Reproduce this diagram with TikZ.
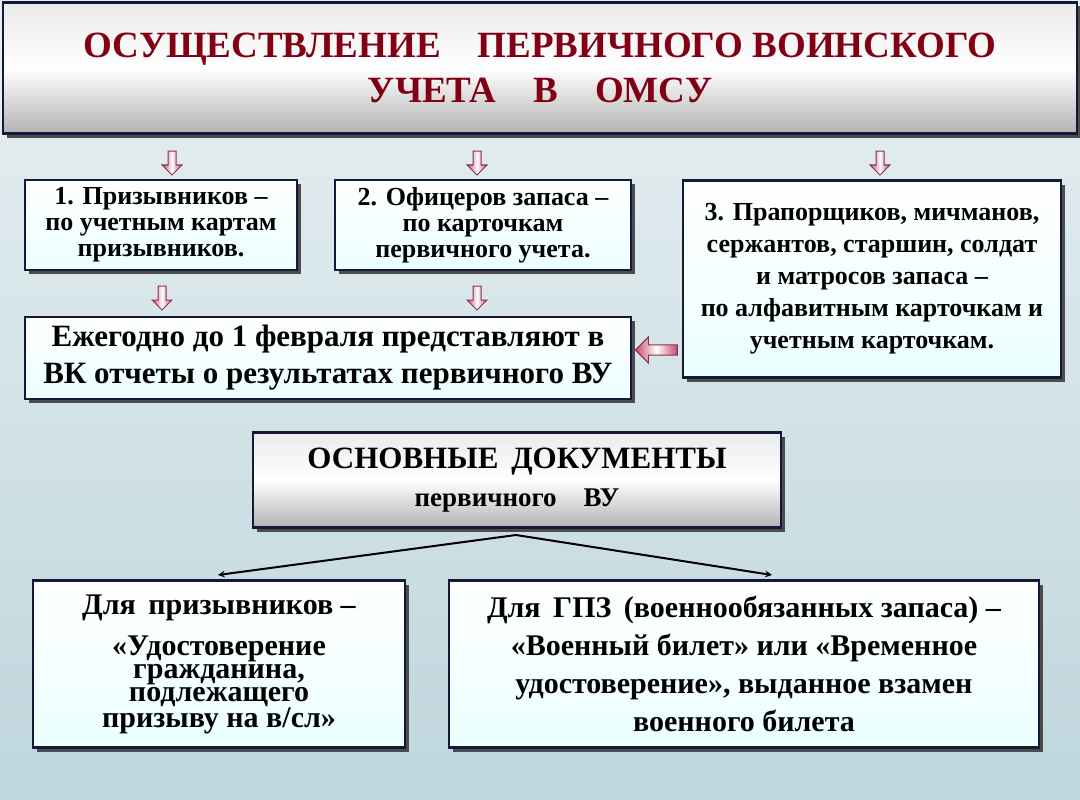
\documentclass[tikz,border=0pt]{standalone}
\usepackage{fontspec}
\setmainfont{Liberation Serif}
\usetikzlibrary{shapes.arrows, shadows, positioning}

\definecolor{bgtop}{RGB}{232,240,242}
\definecolor{bgbot}{RGB}{190,214,220}
\definecolor{boxline}{RGB}{20,25,60}
\definecolor{titlered}{RGB}{130,0,20}
\definecolor{arrowpink}{RGB}{200,70,110}

\begin{document}
\begin{tikzpicture}[
    x=1pt, y=-1pt,
    every node/.style={font={\bfseries}, text=black, align=center},
    infobox/.style={draw=boxline, line width=2.4pt, top color=white, bottom color=cyan!8,
      drop shadow={shadow xshift=4pt, shadow yshift=-4pt, fill=black!70, opacity=1},
      inner sep=2pt, font={\bfseries\fontsize{26}{26}\selectfont}},
    graybox/.style={draw=boxline, line width=2.4pt, top color=black!8, bottom color=black!30, middle color=white,
      drop shadow={shadow xshift=4pt, shadow yshift=-4pt, fill=black!70, opacity=1}},
    downarrow/.style={single arrow, draw=arrowpink!70!black, line width=1pt, left color=arrowpink, right color=arrowpink,
      middle color=white, minimum width=20pt, single arrow head extend=3pt, minimum height=24pt,
      inner sep=1.5pt, rotate=-90}
  ]

  % background
  \fill[top color=bgtop, bottom color=bgbot] (0,0) rectangle (1080,800);
  \useasboundingbox (0,0) rectangle (1080,800);

  % title
  \node[graybox, minimum width=1074pt, minimum height=131pt, text=titlered,
    font={\bfseries\fontsize{37}{45}\selectfont}] (title) at (540,68)
    {ОСУЩЕСТВЛЕНИЕ\quad ПЕРВИЧНОГО ВОИНСКОГО\\УЧЕТА\quad В\quad ОМСУ};

  % three categories
  \node[infobox, minimum width=272pt, minimum height=90pt] (cat1) at (161,225)
    {1. Призывников –\\по учетным картам\\призывников.};
  \node[infobox, minimum width=296pt, minimum height=90pt] (cat2) at (483,225)
    {2. Офицеров запаса –\\по карточкам\\первичного учета.};
  \node[infobox, minimum width=378pt, minimum height=197pt, font={\bfseries\fontsize{26}{32}\selectfont}] (cat3) at (872,279)
    {3. Прапорщиков, мичманов,\\сержантов, старшин, солдат\\и матросов запаса –\\по алфавитным карточкам и\\учетным карточкам.};

  \node[downarrow] (a1) at (172,161) {};
  \node[downarrow] (a2) at (477,161) {};
  \node[downarrow] (a3) at (880,161) {};

  % report
  \node[infobox, minimum width=606pt, minimum height=82pt, font={\bfseries\fontsize{31}{37}\selectfont}] (report) at (328,358)
    {Ежегодно до 1 февраля представляют в\\ВК отчеты о результатах первичного ВУ};
  \node[downarrow] (a4) at (162,296) {};
  \node[downarrow] (a5) at (477,296) {};
  \node[downarrow, rotate=-90, minimum height=42pt, minimum width=26pt] (a6) at (659,350) {};

  % documents
  \node[graybox, minimum width=528pt, minimum height=95pt, font={\bfseries\fontsize{31}{38}\selectfont}] (docs) at (517,480)
    {ОСНОВНЫЕ\, ДОКУМЕНТЫ\\{\fontsize{27}{30}\selectfont первичного\quad ВУ}};

  \coordinate (fork) at (516,535);
  \coordinate (leftend) at (218,575);
  \coordinate (rightend) at (772,575);
  \draw[->, >=stealth, line width=2pt] (fork) -- (leftend);
  \draw[->, >=stealth, line width=2pt] (fork) -- (rightend);

  \node[infobox, minimum width=372pt, minimum height=167pt, font={\bfseries\fontsize{30}{23}\selectfont}] (doc1) at (219,664)
    {Для\, призывников –\\[14pt]«Удостоверение\\гражданина,\\подлежащего\\призыву на в/сл»};
  \node[infobox, minimum width=590pt, minimum height=167pt, font={\bfseries\fontsize{30}{38}\selectfont}] (doc2) at (744,664)
    {Для\, ГПЗ\, (военнообязанных запаса) –\\«Военный билет» или «Временное\\удостоверение», выданное взамен\\военного билета};

\end{tikzpicture}
\end{document}
